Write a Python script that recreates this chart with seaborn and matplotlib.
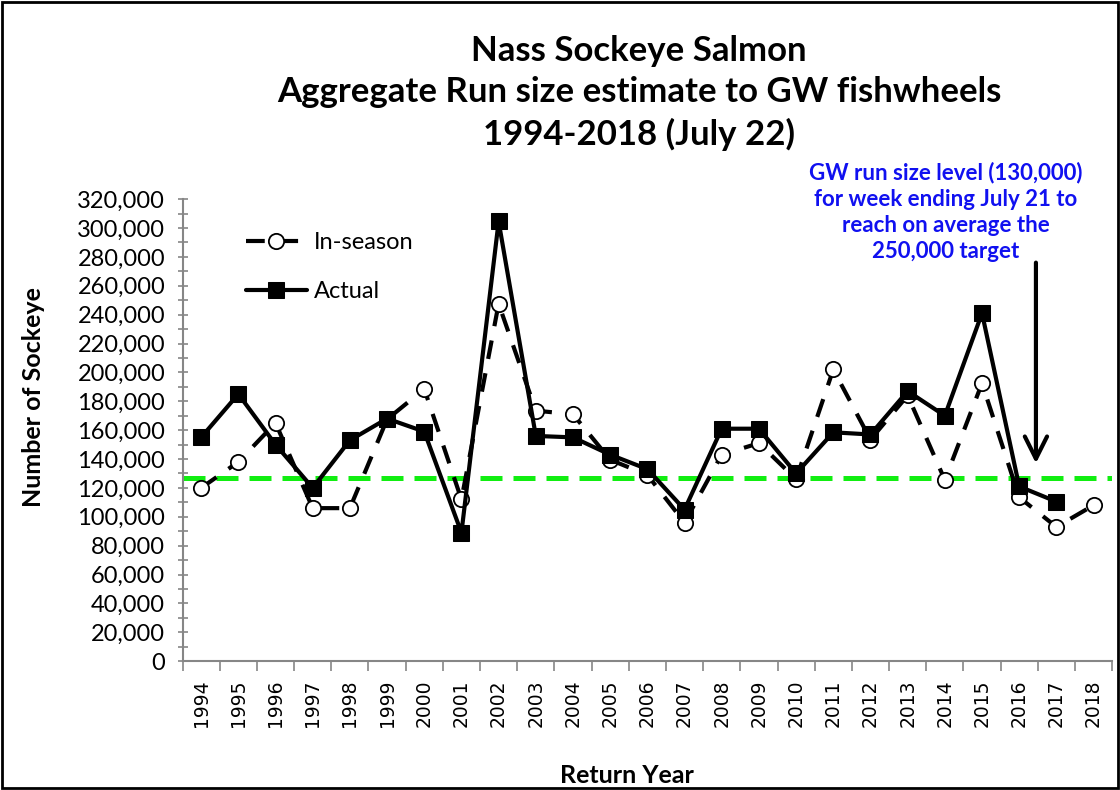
import numpy as np
import pandas as pd
import matplotlib
matplotlib.use("Agg")
import matplotlib.pyplot as plt
import matplotlib.ticker as mticker
from matplotlib.patches import Rectangle
import seaborn as sns

# Values
years = [str(y) for y in range(1994, 2019)]
in_season = [120000, 138000, 165000, 106000, 106000, 167500, 188500, 112000,
             247500, 173500, 171000, 139500, 129000, 96000, 143000, 151000,
             126000, 202000, 153500, 184000, 125500, 192500, 113500, 93000,
             108000]
actual = [155000, 185000, 150000, 120000, 153000, 168000, 159000, 89000,
          304500, 156000, 155000, 143000, 133000, 105000, 161000, 161000,
          130000, 158500, 157000, 187000, 170000, 241000, 121000, 110500,
          np.nan]
gw_level = 127000
arrow_from = 276000
arrow_to = 137000

sns.set_theme(style="white")
plt.rcParams["font.family"] = ["Lato", "DejaVu Sans"]
plt.rcParams["text.color"] = "black"
plt.rcParams["axes.labelcolor"] = "black"
plt.rcParams["xtick.labelcolor"] = "black"
plt.rcParams["ytick.labelcolor"] = "black"

df = pd.DataFrame({"pos": range(len(years)), "year": years,
                   "In-season": in_season, "Actual": actual})

fig = plt.figure(figsize=(11.2, 7.9), dpi=100)
ax = fig.add_axes([0.163, 0.163, 0.830, 0.585])

# in-season: dashed line with open circles
sns.lineplot(data=df, x="pos", y="In-season", ax=ax, color="black", lw=3,
             marker="o", markersize=11, markerfacecolor="white",
             markeredgecolor="black", markeredgewidth=1.3, label="In-season")
ax.lines[-1].set_dashes((4.5, 3.5))

# actual: solid line with filled squares
sns.lineplot(data=df, x="pos", y="Actual", ax=ax, color="black", lw=3,
             marker="s", markersize=12, markerfacecolor="black",
             markeredgecolor="black", label="Actual")

# GW run size level
ax.axhline(gw_level, color="#11ee11", lw=3.6, dashes=(4.4, 2.2), zorder=1)

ax.set_xlim(-0.5, len(years) - 0.5)
ax.set_ylim(0, 320000)

ax.yaxis.set_major_locator(mticker.MultipleLocator(20000))
ax.yaxis.set_minor_locator(mticker.MultipleLocator(10000))
ax.yaxis.set_major_formatter(mticker.FuncFormatter(lambda v, p: f"{int(v):,}"))
ax.tick_params(axis="y", which="both", direction="inout", length=7, width=1.2,
               color="#868686", labelsize=17, pad=9, left=True)

ax.set_xticks(range(len(years)))
ax.set_xticklabels(years, rotation=90, fontfamily="DejaVu Sans", fontsize=13.5)
ax.set_xticks(np.arange(-0.5, len(years)), minor=True)
ax.tick_params(axis="x", which="major", length=0, pad=13)
ax.tick_params(axis="x", which="minor", direction="out", length=7, width=1.2,
               color="#868686", bottom=True)

for side in ["top", "right"]:
    ax.spines[side].set_visible(False)
for side in ["left", "bottom"]:
    ax.spines[side].set_color("#868686")
    ax.spines[side].set_linewidth(1.5)

ax.set_ylabel("Number of Sockeye", fontsize=18, fontweight="bold")
ax.yaxis.set_label_coords(-0.148, 0.571)
ax.set_xlabel("Return Year", fontsize=18, fontweight="bold")
ax.xaxis.set_label_coords(0.478, -0.222)

ax.legend(loc="upper left", bbox_to_anchor=(0.045, 0.975), frameon=False,
          fontsize=17, labelspacing=1.2, handlelength=2.6, handletextpad=0.3)

fig.text(0.5705, 1 - 93 / 790,
         "Nass Sockeye Salmon\nAggregate Run size estimate to GW fishwheels\n1994-2018 (July 22)",
         ha="center", va="center", fontsize=25, fontweight="bold",
         linespacing=1.35)

fig.text(946 / 1120, 1 - 212 / 790,
         "GW run size level (130,000)\nfor week ending July 21 to\nreach on average the\n250,000 target",
         ha="center", va="center", color="#1010f0", fontsize=16,
         fontweight="bold", linespacing=1.3)

ax.annotate("", xy=(22.45, arrow_to), xytext=(22.45, arrow_from),
            arrowprops=dict(arrowstyle="->,head_length=1.6,head_width=0.8",
                            color="black", lw=3, shrinkA=0, shrinkB=0,
                            mutation_scale=10))

fig.patches.append(Rectangle((0.002, 0.002), 0.996, 0.995, transform=fig.transFigure,
                             fill=False, edgecolor="black", lw=2))

fig.savefig("out.png", dpi=100)
